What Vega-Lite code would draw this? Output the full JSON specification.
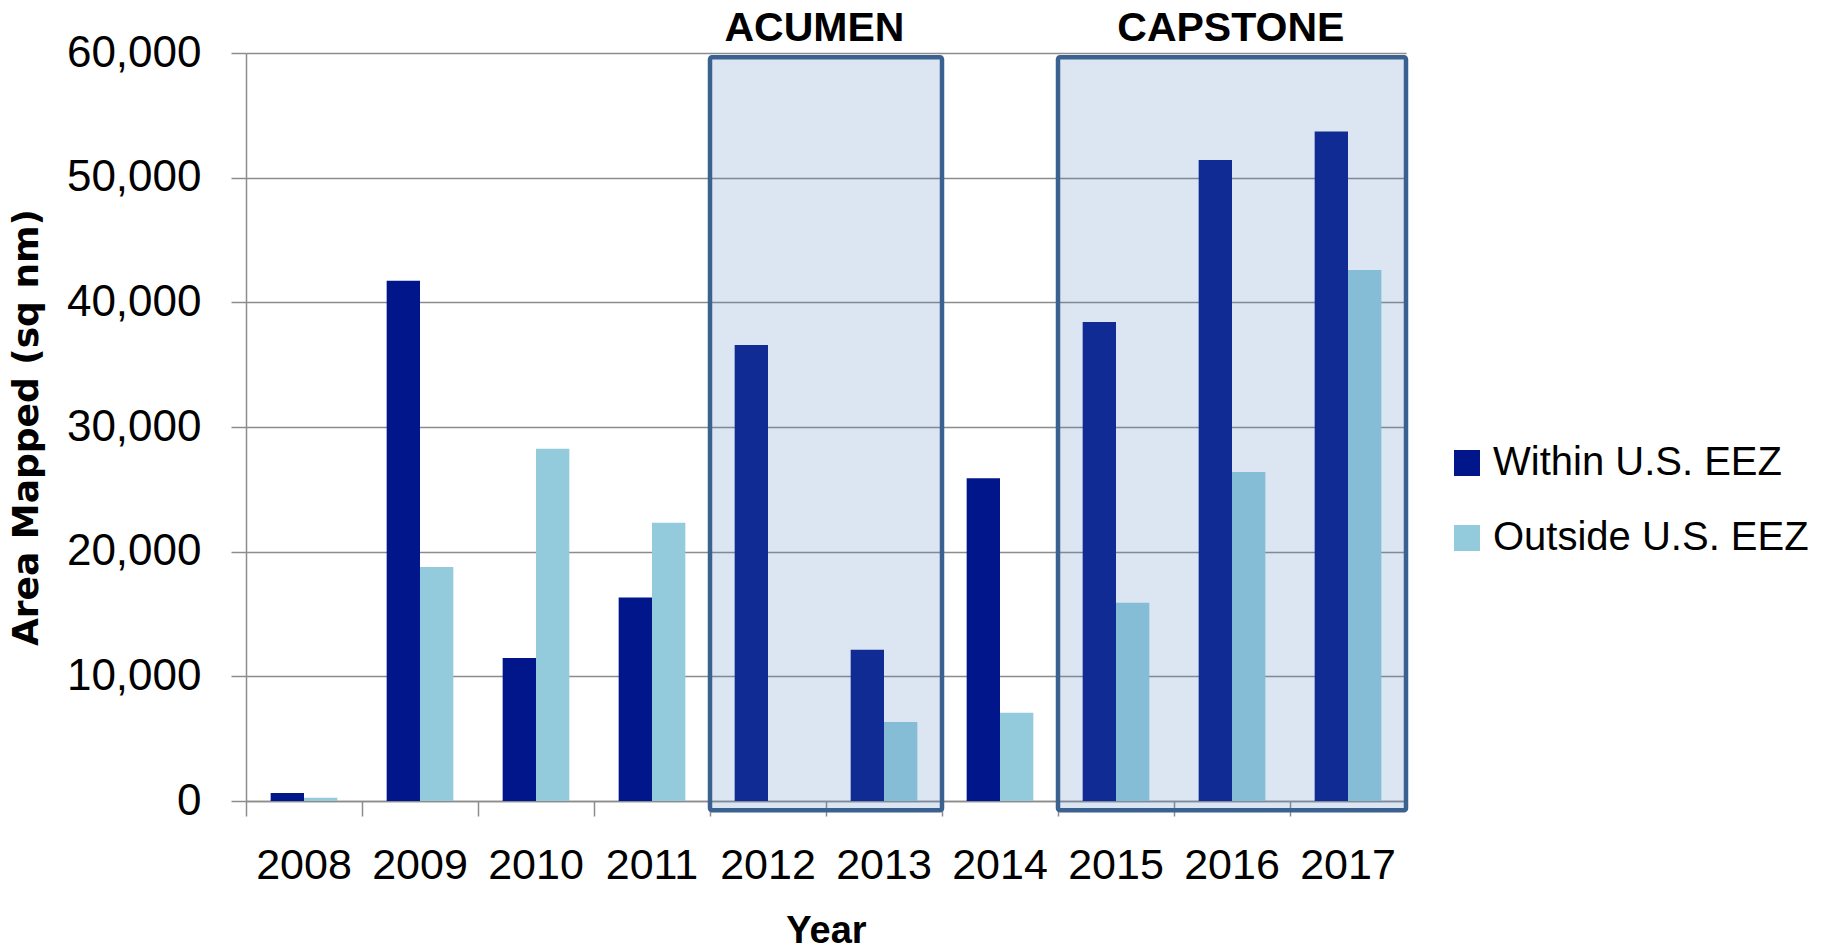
{
  "$schema": "https://vega.github.io/schema/vega-lite/v6.json",
  "autosize": "none",
  "width": 1160,
  "height": 748,
  "padding": {"left": 246, "top": 53, "right": 423, "bottom": 148},
  "background": "white",
  "config": {
    "view": {"stroke": null},
    "font": "Liberation Sans"
  },
  "datasets": {
    "bars": [
      {"year": "2008", "series": "Within U.S. EEZ", "value": 640},
      {"year": "2008", "series": "Outside U.S. EEZ", "value": 265},
      {"year": "2009", "series": "Within U.S. EEZ", "value": 41735},
      {"year": "2009", "series": "Outside U.S. EEZ", "value": 18770},
      {"year": "2010", "series": "Within U.S. EEZ", "value": 11470},
      {"year": "2010", "series": "Outside U.S. EEZ", "value": 28260},
      {"year": "2011", "series": "Within U.S. EEZ", "value": 16330},
      {"year": "2011", "series": "Outside U.S. EEZ", "value": 22320},
      {"year": "2012", "series": "Within U.S. EEZ", "value": 36575},
      {"year": "2012", "series": "Outside U.S. EEZ", "value": 0},
      {"year": "2013", "series": "Within U.S. EEZ", "value": 12140},
      {"year": "2013", "series": "Outside U.S. EEZ", "value": 6340},
      {"year": "2014", "series": "Within U.S. EEZ", "value": 25880},
      {"year": "2014", "series": "Outside U.S. EEZ", "value": 7085},
      {"year": "2015", "series": "Within U.S. EEZ", "value": 38420},
      {"year": "2015", "series": "Outside U.S. EEZ", "value": 15905},
      {"year": "2016", "series": "Within U.S. EEZ", "value": 51415},
      {"year": "2016", "series": "Outside U.S. EEZ", "value": 26390},
      {"year": "2017", "series": "Within U.S. EEZ", "value": 53710},
      {"year": "2017", "series": "Outside U.S. EEZ", "value": 42590}
    ],
    "boxes": [
      {"name": "ACUMEN", "start": "2012", "end": "2013", "top": 59650, "bottom": -750},
      {"name": "CAPSTONE", "start": "2015", "end": "2017", "top": 59650, "bottom": -750}
    ],
    "label1": [{"name": "ACUMEN", "year": "2012", "pos": 61000}],
    "label2": [{"name": "CAPSTONE", "year": "2016", "pos": 61000}]
  },
  "layer": [
    {
      "data": {"name": "bars"},
      "mark": {"type": "bar"},
      "encoding": {
        "x": {
          "field": "year",
          "type": "nominal",
          "scale": {"paddingInner": 0, "paddingOuter": 0},
          "axis": {
            "title": "Year",
            "titleFont": "Liberation Sans",
            "titleFontWeight": "bold",
            "titleFontSize": 38,
            "titleColor": "black",
            "titlePadding": 25,
            "labelAngle": 0,
            "labelFontSize": 43,
            "labelColor": "black",
            "labelPadding": 28,
            "bandPosition": 0,
            "tickSize": 15,
            "tickColor": "#8c8c8c",
            "tickWidth": 1.5,
            "domainColor": "#8c8c8c",
            "domainWidth": 1.5,
            "grid": false
          }
        },
        "xOffset": {
          "field": "series",
          "type": "nominal",
          "sort": ["Within U.S. EEZ", "Outside U.S. EEZ"],
          "scale": {"paddingInner": 0, "paddingOuter": 0.74}
        },
        "y": {
          "field": "value",
          "type": "quantitative",
          "scale": {"domain": [0, 60000], "nice": false},
          "axis": {
            "title": "Area Mapped (sq nm)",
            "titleFont": "DejaVu Sans",
            "titleFontWeight": "bold",
            "titleFontSize": 36,
            "titleColor": "black",
            "titlePadding": 21,
            "values": [0, 10000, 20000, 30000, 40000, 50000, 60000],
            "format": ",d",
            "labelFontSize": 44,
            "labelColor": "black",
            "labelPadding": 30,
            "tickSize": 15,
            "tickColor": "#8c8c8c",
            "tickWidth": 1.5,
            "domainColor": "#8c8c8c",
            "domainWidth": 1.5,
            "gridColor": "#8c8c8c",
            "gridWidth": 1.5
          }
        },
        "color": {
          "field": "series",
          "type": "nominal",
          "sort": ["Within U.S. EEZ", "Outside U.S. EEZ"],
          "scale": {"domain": ["Within U.S. EEZ", "Outside U.S. EEZ"], "range": ["#00168a", "#93cbdc"]},
          "legend": {
            "title": null,
            "orient": "none",
            "legendX": 1201,
            "legendY": 390,
            "padding": 0,
            "symbolType": "square",
            "symbolSize": 676,
            "symbolStrokeWidth": 0,
            "labelFontSize": 40,
            "labelColor": "black",
            "labelOffset": 6,
            "labelLimit": 0,
            "rowPadding": 35
          }
        }
      }
    },
    {
      "data": {"name": "boxes"},
      "mark": {"type": "rect", "fill": "#4f81bd", "fillOpacity": 0.2, "stroke": "#3b6190", "strokeWidth": 4.5, "cornerRadius": 2},
      "encoding": {
        "x": {"field": "start", "type": "nominal", "bandPosition": 0},
        "x2": {"field": "end", "bandPosition": 1},
        "y": {"field": "top", "type": "quantitative"},
        "y2": {"field": "bottom"}
      }
    },
    {
      "data": {"name": "label1"},
      "mark": {"type": "text", "fontSize": 41, "fontWeight": "bold", "font": "Liberation Sans", "baseline": "alphabetic", "color": "black"},
      "encoding": {
        "x": {"field": "year", "type": "nominal", "bandPosition": 0.9},
        "y": {"field": "pos", "type": "quantitative"},
        "text": {"field": "name"}
      }
    },
    {
      "data": {"name": "label2"},
      "mark": {"type": "text", "fontSize": 41, "fontWeight": "bold", "font": "Liberation Sans", "baseline": "alphabetic", "color": "black"},
      "encoding": {
        "x": {"field": "year", "type": "nominal", "bandPosition": 0.49},
        "y": {"field": "pos", "type": "quantitative"},
        "text": {"field": "name"}
      }
    }
  ]
}
